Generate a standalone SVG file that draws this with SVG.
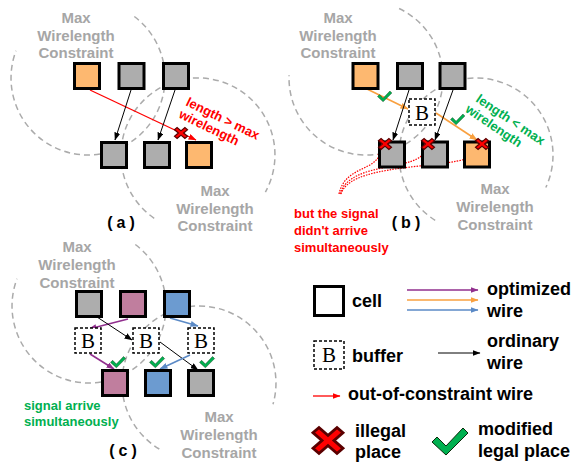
<svg xmlns="http://www.w3.org/2000/svg" width="585" height="463" viewBox="0 0 585 463">
<style>
.bg{fill:#fff}
.arc{fill:none;stroke:#ABABAB;stroke-width:1.5;stroke-dasharray:6 4}
.cell{stroke:#000;stroke-width:3}
.gray{fill:#ADADAD}.orange{fill:#FDB870}.pink{fill:#C07E9E}.blue{fill:#6C9BD0}.white{fill:#fff}
.buf{fill:#fff;stroke:#000;stroke-width:1.5;stroke-dasharray:3 2}
.btxt{font-family:"Liberation Serif","Times New Roman",serif;font-size:21px;text-anchor:middle;fill:#000}
.lbl{font-family:"Liberation Sans",Arial,sans-serif;font-weight:bold;font-size:15px;fill:#A6A6A6;text-anchor:middle}
.plbl{font-family:"Liberation Sans",Arial,sans-serif;font-weight:bold;font-size:16px;fill:#000;text-anchor:middle;letter-spacing:4px}
.red{font-family:"Liberation Sans",Arial,sans-serif;font-weight:bold;font-size:13px;fill:#FF0000}
.grn{font-family:"Liberation Sans",Arial,sans-serif;font-weight:bold;font-size:13px;fill:#00B050}
.leg{font-family:"Liberation Sans",Arial,sans-serif;font-weight:bold;font-size:18px;fill:#000}
.wk{fill:none;stroke:#000;stroke-width:1}
.wr{fill:none;stroke:#FF0000;stroke-width:1.3}
.wo{fill:none;stroke:#F9A03F;stroke-width:1.6}
.wp{fill:none;stroke:#912F8E;stroke-width:1.6}
.wb{fill:none;stroke:#5B8AC6;stroke-width:1.6}
.wd{fill:none;stroke:#FF0000;stroke-width:1.2;stroke-dasharray:1.5 1.2}
.xm{fill:#FF0000;stroke:#5A0000;stroke-width:1}
.ck{fill:#00B050;stroke:#0A2A0A;stroke-width:1}
</style>
<defs>
<marker id="ak" markerUnits="userSpaceOnUse" markerWidth="8" markerHeight="6" refX="7.5" refY="3" orient="auto"><path d="M0,0 L8,3 L0,6 z" fill="#000"/></marker>
<marker id="ar" markerUnits="userSpaceOnUse" markerWidth="8" markerHeight="6" refX="7.5" refY="3" orient="auto"><path d="M0,0 L8,3 L0,6 z" fill="#FF0000"/></marker>
<marker id="ao" markerUnits="userSpaceOnUse" markerWidth="8" markerHeight="6" refX="7.5" refY="3" orient="auto"><path d="M0,0 L8,3 L0,6 z" fill="#F9A03F"/></marker>
<marker id="ap" markerUnits="userSpaceOnUse" markerWidth="8" markerHeight="6" refX="7.5" refY="3" orient="auto"><path d="M0,0 L8,3 L0,6 z" fill="#912F8E"/></marker>
<marker id="ab" markerUnits="userSpaceOnUse" markerWidth="8" markerHeight="6" refX="7.5" refY="3" orient="auto"><path d="M0,0 L8,3 L0,6 z" fill="#5B8AC6"/></marker>
<marker id="ad" markerUnits="userSpaceOnUse" markerWidth="6" markerHeight="6" refX="5.5" refY="3" orient="auto"><path d="M0,0 L6,3 L0,6 z" fill="#FF0000"/></marker>
<polygon id="xs" points="-5,-3 -3,-5 0,-2 3,-5 5,-3 2,0 5,3 3,5 0,2 -3,5 -5,3 -2,0"/>
<polygon id="cs" points="0,14 5,9 14,18 31,0 36,5 14,27"/>
</defs>
<rect class="bg" x="0" y="0" width="585" height="463"/>

<g id="constraint-regions">
<path class="arc" d="M134.3,16.5 A77,77 0 1 1 16,50.8"/>
<path class="arc" d="M154.2,218.3 A77,77 0 1 1 265.4,192.1"/>
<path class="arc" d="M399.1,8.5 A77,77 0 1 1 289.05,75.3"/>
<path class="arc" d="M435.2,220.3 A77,77 0 1 1 545.8,187.5"/>
<path class="arc" d="M135.3,244.5 A77,77 0 1 1 17,278.8"/>
<path class="arc" d="M159.3,449 A77,77 0 1 1 273,404.2"/>
</g>

<g id="region-labels">
<text class="lbl" x="76" y="23">Max</text><text class="lbl" x="76" y="40.5">Wirelength</text><text class="lbl" x="76" y="58">Constraint</text>
<text class="lbl" x="215" y="196">Max</text><text class="lbl" x="215" y="213.5">Wirelength</text><text class="lbl" x="215" y="231">Constraint</text>
<text class="lbl" x="338" y="23">Max</text><text class="lbl" x="338" y="40.5">Wirelength</text><text class="lbl" x="338" y="58">Constraint</text>
<text class="lbl" x="495" y="194">Max</text><text class="lbl" x="495" y="211.5">Wirelength</text><text class="lbl" x="495" y="229.5">Constraint</text>
<text class="lbl" x="77" y="252">Max</text><text class="lbl" x="77" y="269.5">Wirelength</text><text class="lbl" x="77" y="287.5">Constraint</text>
<text class="lbl" x="219" y="422">Max</text><text class="lbl" x="219" y="439.5">Wirelength</text><text class="lbl" x="219" y="457.5">Constraint</text>
</g>

<g id="connectors">
<path class="wr" d="M90,90 L196,140" marker-end="url(#ar)"/>
<path class="wk" d="M131,90 L115,140" marker-end="url(#ak)"/>
<path class="wk" d="M175,90 L158,140" marker-end="url(#ak)"/>
<path class="wo" d="M367,89 L408,109" marker-end="url(#ao)"/>
<path class="wo" d="M436,113 L477,140" marker-end="url(#ao)"/>
<path class="wk" d="M409,90 L393,140" marker-end="url(#ak)"/>
<path class="wk" d="M453,90 L435,140" marker-end="url(#ak)"/>
<path class="wd" d="M339,194 C345,165 378,172 381,150" marker-end="url(#ad)"/>
<path class="wd" d="M340,194 C350,160 420,172 425,150" marker-end="url(#ad)"/>
<path class="wd" d="M341,194 C352,158 475,172 478,150" marker-end="url(#ad)"/>
<path class="wp" d="M128,319 L89,329" marker-end="url(#ap)"/>
<path class="wp" d="M90,354 L114,369" marker-end="url(#ap)"/>
<path class="wk" d="M97,317 L132,340" marker-end="url(#ak)"/>
<path class="wk" d="M160,342 L198,370" marker-end="url(#ak)"/>
<path class="wb" d="M170,318 L198,326" marker-end="url(#ab)"/>
<path class="wb" d="M190,355 L160,369" marker-end="url(#ab)"/>
<path class="wp" d="M407,290 L478,290" stroke-width="2" marker-end="url(#ap)"/>
<path class="wo" d="M407,300 L478,300" stroke-width="2" marker-end="url(#ao)"/>
<path class="wb" d="M407,310 L478,310" stroke-width="2" marker-end="url(#ab)"/>
<path class="wk" d="M438,353 L480,353" stroke-width="2" marker-end="url(#ak)"/>
<path class="wr" d="M313,396 L340,396" marker-end="url(#ar)"/>
</g>

<g id="panel-a">
<g id="a-top1"><rect class="cell orange" x="74.5" y="63.5" width="25" height="25"/></g>
<g id="a-top2"><rect class="cell gray" x="119" y="63.5" width="25" height="25"/></g>
<g id="a-top3"><rect class="cell gray" x="163.5" y="63.5" width="25" height="25"/></g>
<g id="a-bot1"><rect class="cell gray" x="101.5" y="142.5" width="25" height="25"/></g>
<g id="a-bot2"><rect class="cell gray" x="144.5" y="142.5" width="25" height="25"/></g>
<g id="a-bot3"><rect class="cell orange" x="186.5" y="142.5" width="25" height="25"/></g>
<text class="red" font-size="13.5" transform="translate(185,105) rotate(26)"><tspan x="0" y="0">length &gt; max</tspan><tspan x="-1" y="14">wirelength</tspan></text>
<use href="#xs" class="xm" transform="translate(181,133) scale(1.3,1.1)"/>
<text class="plbl" x="123" y="228">(a)</text>
</g>

<g id="panel-b">
<g id="b-top1"><rect class="cell orange" x="353" y="63.5" width="25" height="25"/></g>
<g id="b-top2"><rect class="cell gray" x="397.5" y="63.5" width="25" height="25"/></g>
<g id="b-top3"><rect class="cell gray" x="440" y="63.5" width="25" height="25"/></g>
<g id="b-buf"><rect class="buf" x="409" y="99" width="26" height="26"/><text class="btxt" x="422" y="119.5">B</text></g>
<g id="b-bot1"><rect class="cell gray" x="379.5" y="142" width="25" height="25"/></g>
<g id="b-bot2"><rect class="cell gray" x="422.5" y="142" width="25" height="25"/></g>
<g id="b-bot3"><rect class="cell orange" x="464.5" y="142" width="25" height="25"/></g>
<use href="#cs" class="ck" transform="translate(377.5,91) scale(0.4)"/>
<use href="#cs" class="ck" transform="translate(450.5,114) scale(0.4)"/>
<use href="#xs" class="xm" transform="translate(385,144) scale(1.3,1.1)"/>
<use href="#xs" class="xm" transform="translate(428,144) scale(1.3,1.1)"/>
<use href="#xs" class="xm" transform="translate(482,144) scale(1.3,1.1)"/>
<text class="grn" font-size="14" transform="translate(475,101) rotate(34)"><tspan x="0" y="0">length &lt; max</tspan><tspan x="-3" y="14.5">wirelength</tspan></text>
<text class="red"><tspan x="294" y="218">but the signal</tspan><tspan x="294" y="235">didn't arrive</tspan><tspan x="294" y="252">simultaneously</tspan></text>
<text class="plbl" x="408" y="228">(b)</text>
</g>

<g id="panel-c">
<g id="c-top1"><rect class="cell gray" x="76.5" y="291.5" width="25" height="25"/></g>
<g id="c-top2"><rect class="cell pink" x="120.5" y="291.5" width="25" height="25"/></g>
<g id="c-top3"><rect class="cell blue" x="164.5" y="291.5" width="25" height="25"/></g>
<g id="c-buf1"><rect class="buf" x="75" y="328" width="26" height="25"/><text class="btxt" x="88" y="348">B</text></g>
<g id="c-buf2"><rect class="buf" x="133" y="328" width="26" height="25"/><text class="btxt" x="146" y="348">B</text></g>
<g id="c-buf3"><rect class="buf" x="188" y="328" width="26" height="25"/><text class="btxt" x="201" y="348">B</text></g>
<g id="c-bot1"><rect class="cell pink" x="102.5" y="370.5" width="25" height="25"/></g>
<g id="c-bot2"><rect class="cell blue" x="145.5" y="370.5" width="25" height="25"/></g>
<g id="c-bot3"><rect class="cell gray" x="188.5" y="370.5" width="25" height="25"/></g>
<use href="#cs" class="ck" transform="translate(110.5,356.5) scale(0.42)"/>
<use href="#cs" class="ck" transform="translate(149.5,356.5) scale(0.42)"/>
<use href="#cs" class="ck" transform="translate(199.5,356.5) scale(0.42)"/>
<text class="grn"><tspan x="24" y="410">signal arrive</tspan><tspan x="24" y="426">simultaneously</tspan></text>
<text class="plbl" x="125" y="456">(c)</text>
</g>

<g id="legend">
<g id="leg-cell"><rect class="cell white" x="314.5" y="286.5" width="29" height="29"/><text class="leg" x="352" y="307">cell</text></g>
<g id="leg-opt"><text class="leg"><tspan x="487" y="295">optimized</tspan><tspan x="487" y="317">wire</tspan></text></g>
<g id="leg-buf"><rect class="buf" x="314" y="341" width="30" height="28"/><text class="btxt" x="329" y="362">B</text><text class="leg" x="352" y="362">buffer</text></g>
<g id="leg-ord"><text class="leg"><tspan x="487" y="347">ordinary</tspan><tspan x="487" y="369">wire</tspan></text></g>
<g id="leg-out"><text class="leg" x="348" y="400">out-of-constraint wire</text></g>
<g id="leg-illegal"><use href="#xs" class="xm" transform="translate(328,440.5) scale(3,2.6)"/><text class="leg"><tspan x="355" y="437">illegal</tspan><tspan x="355" y="458">place</tspan></text></g>
<g id="leg-legal"><use href="#cs" class="ck" transform="translate(432,428)"/><text class="leg"><tspan x="478" y="435">modified</tspan><tspan x="478" y="457">legal place</tspan></text></g>
</g>
</svg>
